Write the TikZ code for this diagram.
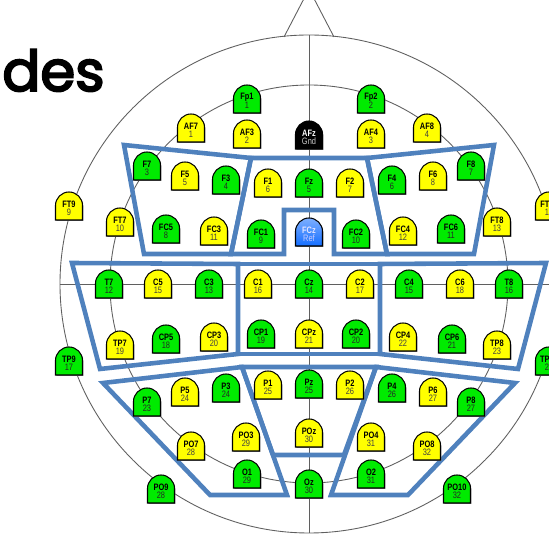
\documentclass[tikz,border=0pt]{standalone}
\usepackage{fontspec}
\newfontfamily\elfont[FakeStretch=0.8]{Liberation Sans}
\newfontfamily\titlefont[FakeBold=3.5]{Poppins}
\definecolor{egreen}{RGB}{0,235,0}
\definecolor{eyellow}{RGB}{255,255,0}
\definecolor{eblue}{RGB}{20,110,255}
\definecolor{rblue}{RGB}{79,129,189}
\definecolor{gline}{RGB}{95,95,95}
\tikzset{region/.style = {draw=rblue, line width=2.6pt, line join=miter},
         guide/.style = {draw=gline, line width=0.5pt},
         elabel/.style = {inner sep=0pt, font=\elfont\bfseries\fontsize{5.3}{5.5}\selectfont},
         enum/.style = {inner sep=0pt, font=\elfont\fontsize{5.3}{5.5}\selectfont}}
% name, x, y, fill, number, label colour, number colour
\newcommand{\electrode}[7]{%
  \begin{scope}[shift={(#2,#3)}]
    \fill [black!45] (-12.7,14.8) -- (14.3,14.8) -- (14.3,0.3) arc (0:-180:13.5) -- cycle;
    \path [#4, draw=black, line width=0.6pt] (-13.5,14) -- (13.5,14) -- (13.5,-0.5) arc (0:-180:13.5) -- cycle;
    \node [elabel, text=#6] (#1) at (0,-1.5) {#1};
    \node [enum, text=#7] (#1-n) at (0,6.5) {#5};
  \end{scope}}

\begin{document}
\begin{tikzpicture}[x=0.02cm, y=-0.02cm]
  \useasboundingbox (0,0) rectangle (549,536);
  \clip (0,0) rectangle (549,536);

  % head outline and guide lines
  \draw [guide] (309,284) circle [radius=249];
  \draw [guide] (309,284) circle [radius=199];
  \draw [guide] (309,35) -- (309,533);
  \draw [guide] (60,284) -- (558,284);
  \draw [guide] (284,37) -- (309,-11) -- (334,37);

  % frontal regions
  \draw [region] (124,145) -- (251,158) -- (231,254) -- (144,254) -- cycle;
  \draw [region] (251,158) -- (367,158) -- (387,254) -- (334,254) -- (334,210)
                 -- (284,210) -- (284,254) -- (231,254) -- cycle;
  \draw [region] (367,158) -- (494,145) -- (474,254) -- (387,254) -- cycle;

  % central regions
  \draw [region] (72,263) -- (238,264) -- (238,354) -- (100,369) -- cycle;
  \draw [region] (238,264) -- (380,264) -- (380,354) -- (238,354) -- cycle;
  \draw [region] (380,264) -- (546,263) -- (518,369) -- (380,354) -- cycle;

  % parietal regions
  \draw [region] (103,383) -- (242,367) -- (287,495) -- (210,495) -- cycle;
  \draw [region] (242,367) -- (376,367) -- (344,455) -- (273,455) -- cycle;
  \draw [region] (376,367) -- (515,383) -- (408,495) -- (331,495) -- cycle;

  % electrodes
  \foreach \name/\x/\y/\num in {Fp1/247/99/1, Fp2/371/99/2, F7/147/166/3, F3/226/180/4,
      Fz/309/183/5, F4/392/180/6, F8/471/166/7, FC5/166/229/8, FC1/261/234/9,
      FC2/356/234/10, FC6/451/229/11, T7/109/284/12, C3/209/284/13, Cz/309/284/14,
      C4/409/284/15, T8/509/284/16, TP9/69/361/17, CP5/166/339/18, CP1/261/334/19,
      CP2/356/334/20, CP6/452/339/21, TP10/549/361/24, P7/147/402/23, P3/226/388/24,
      Pz/309/384/25, P4/392/388/26, P8/471/402/27, PO9/161/489/28, O1/247/474/29,
      Oz/309/484/30, O2/371/474/31, PO10/457/489/32} {
    \electrode{\name}{\x}{\y}{fill=egreen}{\num}{black}{black!85}
  }
  \foreach \name/\x/\y/\num in {AF7/191/128/1, AF3/247/134/2, AF4/371/134/3, AF8/427/128/4,
      F5/185/176/5, F1/268/183/6, F2/350/183/7, F6/433/176/8, FT9/69/206/9,
      FT7/120/222/10, FC3/214/231/11, FC4/403/231/12, FT8/497/222/13, FT10/549/206/14,
      C5/158/284/15, C1/258/284/16, C2/360/284/17, C6/460/284/18, TP7/120/345/19,
      CP3/214/337/20, CPz/309/334/21, CP4/403/337/22, TP8/497/345/23, P5/185/392/24,
      P1/268/385/25, P2/350/385/26, P6/433/392/27, PO7/191/446/28, PO3/246/437/29,
      POz/309/433/30, PO4/371/437/31, PO8/427/446/32} {
    \electrode{\name}{\x}{\y}{fill=eyellow}{\num}{black}{black!75}
  }
  \electrode{AFz}{309}{135}{fill=black}{Gnd}{white}{white!80!black}
  \electrode{FCz}{309}{232}{top color=eblue!55!white, bottom color=eblue}{Ref}{blue!10!white}{blue!20!white}

  \node [anchor=base west, inner sep=0pt, font=\titlefont\fontsize{32}{35}\selectfont] (title) at (2,91) {des};
\end{tikzpicture}
\end{document}
